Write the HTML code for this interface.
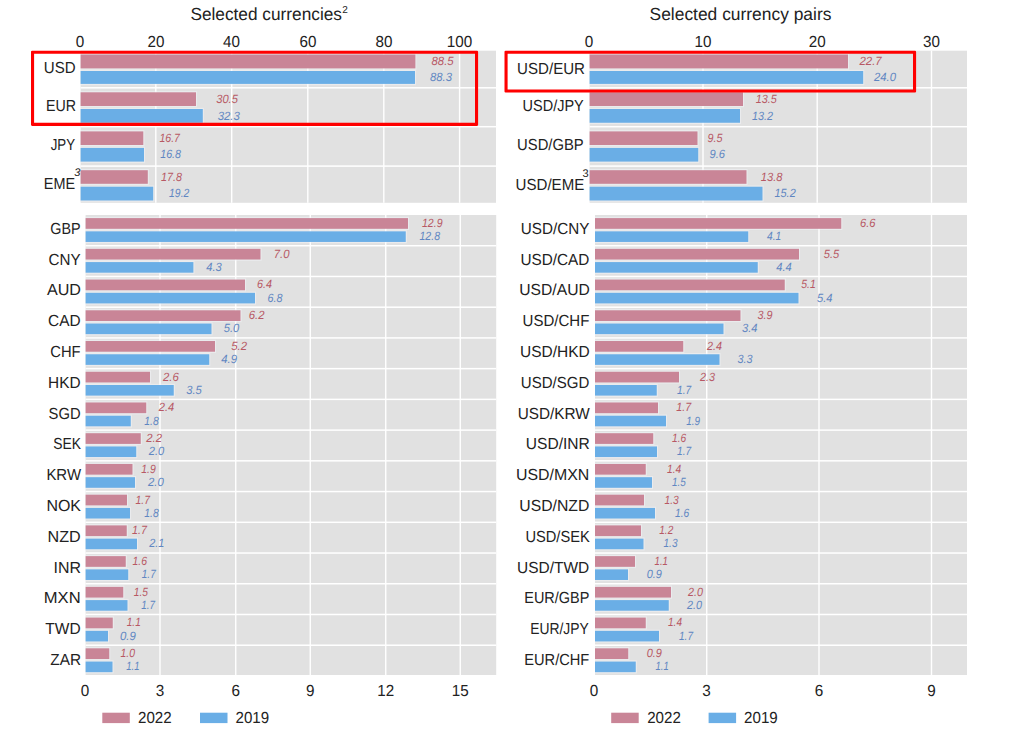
<!DOCTYPE html>
<html><head><meta charset="utf-8"><title>FX turnover</title>
<style>
html,body{margin:0;padding:0;background:#fff;}
body{width:1016px;height:736px;overflow:hidden;font-family:"Liberation Sans",sans-serif;}
svg{display:block;}
svg text{font-family:"Liberation Sans",sans-serif;text-rendering:geometricPrecision;}
</style></head><body>
<svg width="1016" height="736" viewBox="0 0 1016 736">
<rect x="0" y="0" width="1016" height="736" fill="#ffffff"/>
<rect x="80.60" y="50.70" width="415.40" height="152.10" fill="#e1e1e1" />
<rect x="155.10" y="50.70" width="1.40" height="152.10" fill="#fff" />
<rect x="231.00" y="50.70" width="1.40" height="152.10" fill="#fff" />
<rect x="307.10" y="50.70" width="1.40" height="152.10" fill="#fff" />
<rect x="383.10" y="50.70" width="1.40" height="152.10" fill="#fff" />
<rect x="458.90" y="50.70" width="1.40" height="152.10" fill="#fff" />
<rect x="80.60" y="87.05" width="415.40" height="1.50" fill="#fff" />
<rect x="80.60" y="125.95" width="415.40" height="1.50" fill="#fff" />
<rect x="80.60" y="165.35" width="415.40" height="1.50" fill="#fff" />
<rect x="80.60" y="53.25" width="335.90" height="16.40" fill="#f4f6fa" fill-opacity="0.5"/>
<rect x="80.60" y="54.50" width="334.80" height="13.90" fill="#c98597" />
<rect x="80.60" y="69.75" width="335.50" height="15.40" fill="#f4f6fa" fill-opacity="0.5"/>
<rect x="80.60" y="71.00" width="334.40" height="12.90" fill="#6aaee6" />
<text x="431.50" y="65.15" font-size="12" fill="#b75864" text-anchor="start" font-style="italic" textLength="22.2" lengthAdjust="spacingAndGlyphs">88.5</text>
<text x="430.00" y="81.15" font-size="12" fill="#6086c1" text-anchor="start" font-style="italic" textLength="22.0" lengthAdjust="spacingAndGlyphs">88.3</text>
<text x="43.80" y="72.80" font-size="16" fill="#222222" text-anchor="start" textLength="31.8" lengthAdjust="spacingAndGlyphs">USD</text>
<rect x="80.60" y="91.05" width="116.50" height="16.20" fill="#f4f6fa" fill-opacity="0.5"/>
<rect x="80.60" y="92.30" width="115.40" height="13.70" fill="#c98597" />
<rect x="80.60" y="107.75" width="123.30" height="16.25" fill="#f4f6fa" fill-opacity="0.5"/>
<rect x="80.60" y="109.00" width="122.20" height="13.75" fill="#6aaee6" />
<text x="216.20" y="102.85" font-size="12" fill="#b75864" text-anchor="start" font-style="italic" textLength="21.7" lengthAdjust="spacingAndGlyphs">30.5</text>
<text x="217.70" y="119.58" font-size="12" fill="#6086c1" text-anchor="start" font-style="italic" textLength="22.1" lengthAdjust="spacingAndGlyphs">32.3</text>
<text x="46.00" y="111.30" font-size="16" fill="#222222" text-anchor="start" textLength="30.0" lengthAdjust="spacingAndGlyphs">EUR</text>
<rect x="80.60" y="130.15" width="63.80" height="16.10" fill="#f4f6fa" fill-opacity="0.5"/>
<rect x="80.60" y="131.40" width="62.70" height="13.60" fill="#c98597" />
<rect x="80.60" y="146.65" width="64.50" height="16.20" fill="#f4f6fa" fill-opacity="0.5"/>
<rect x="80.60" y="147.90" width="63.40" height="13.70" fill="#6aaee6" />
<text x="159.40" y="141.90" font-size="12" fill="#b75864" text-anchor="start" font-style="italic" textLength="20.6" lengthAdjust="spacingAndGlyphs">16.7</text>
<text x="160.20" y="158.45" font-size="12" fill="#6086c1" text-anchor="start" font-style="italic" textLength="20.8" lengthAdjust="spacingAndGlyphs">16.8</text>
<text x="50.70" y="150.40" font-size="16" fill="#222222" text-anchor="start" textLength="24.4" lengthAdjust="spacingAndGlyphs">JPY</text>
<rect x="80.60" y="168.95" width="68.30" height="16.10" fill="#f4f6fa" fill-opacity="0.5"/>
<rect x="80.60" y="170.20" width="67.20" height="13.60" fill="#c98597" />
<rect x="80.60" y="185.45" width="73.70" height="16.30" fill="#f4f6fa" fill-opacity="0.5"/>
<rect x="80.60" y="186.70" width="72.60" height="13.80" fill="#6aaee6" />
<text x="161.00" y="180.70" font-size="12" fill="#b75864" text-anchor="start" font-style="italic" textLength="21.0" lengthAdjust="spacingAndGlyphs">17.8</text>
<text x="169.10" y="197.30" font-size="12" fill="#6086c1" text-anchor="start" font-style="italic" textLength="20.2" lengthAdjust="spacingAndGlyphs">19.2</text>
<text x="43.80" y="189.10" font-size="16" fill="#222222" text-anchor="start" textLength="31.3" lengthAdjust="spacingAndGlyphs">EME</text>
<text x="80.00" y="46.50" font-size="16" fill="#222222" text-anchor="middle" textLength="8.5" lengthAdjust="spacingAndGlyphs">0</text>
<text x="156.00" y="46.50" font-size="16" fill="#222222" text-anchor="middle" textLength="16.9" lengthAdjust="spacingAndGlyphs">20</text>
<text x="231.50" y="46.50" font-size="16" fill="#222222" text-anchor="middle" textLength="16.9" lengthAdjust="spacingAndGlyphs">40</text>
<text x="308.00" y="46.50" font-size="16" fill="#222222" text-anchor="middle" textLength="16.9" lengthAdjust="spacingAndGlyphs">60</text>
<text x="384.00" y="46.50" font-size="16" fill="#222222" text-anchor="middle" textLength="16.9" lengthAdjust="spacingAndGlyphs">80</text>
<text x="459.50" y="46.50" font-size="16" fill="#222222" text-anchor="middle" textLength="25.4" lengthAdjust="spacingAndGlyphs">100</text>
<rect x="589.60" y="50.70" width="377.40" height="152.10" fill="#e1e1e1" />
<rect x="702.30" y="50.70" width="1.40" height="152.10" fill="#fff" />
<rect x="816.50" y="50.70" width="1.40" height="152.10" fill="#fff" />
<rect x="930.80" y="50.70" width="1.40" height="152.10" fill="#fff" />
<rect x="589.60" y="87.05" width="377.40" height="1.50" fill="#fff" />
<rect x="589.60" y="125.95" width="377.40" height="1.50" fill="#fff" />
<rect x="589.60" y="165.35" width="377.40" height="1.50" fill="#fff" />
<rect x="589.60" y="53.25" width="259.50" height="16.40" fill="#f4f6fa" fill-opacity="0.5"/>
<rect x="589.60" y="54.50" width="258.40" height="13.90" fill="#c98597" />
<rect x="589.60" y="69.75" width="274.70" height="15.40" fill="#f4f6fa" fill-opacity="0.5"/>
<rect x="589.60" y="71.00" width="273.60" height="12.90" fill="#6aaee6" />
<text x="859.40" y="65.15" font-size="12" fill="#b75864" text-anchor="start" font-style="italic" textLength="22.3" lengthAdjust="spacingAndGlyphs">22.7</text>
<text x="874.00" y="81.15" font-size="12" fill="#6086c1" text-anchor="start" font-style="italic" textLength="22.0" lengthAdjust="spacingAndGlyphs">24.0</text>
<text x="517.10" y="73.50" font-size="16" fill="#222222" text-anchor="start" textLength="67.9" lengthAdjust="spacingAndGlyphs">USD/EUR</text>
<rect x="589.60" y="91.05" width="154.50" height="16.20" fill="#f4f6fa" fill-opacity="0.5"/>
<rect x="589.60" y="92.30" width="153.40" height="13.70" fill="#c98597" />
<rect x="589.60" y="107.75" width="151.50" height="16.25" fill="#f4f6fa" fill-opacity="0.5"/>
<rect x="589.60" y="109.00" width="150.40" height="13.75" fill="#6aaee6" />
<text x="755.75" y="102.85" font-size="12" fill="#b75864" text-anchor="start" font-style="italic" textLength="21.0" lengthAdjust="spacingAndGlyphs">13.5</text>
<text x="752.00" y="119.58" font-size="12" fill="#6086c1" text-anchor="start" font-style="italic" textLength="21.0" lengthAdjust="spacingAndGlyphs">13.2</text>
<text x="522.60" y="111.30" font-size="16" fill="#222222" text-anchor="start" textLength="61.1" lengthAdjust="spacingAndGlyphs">USD/JPY</text>
<rect x="589.60" y="130.15" width="109.00" height="16.10" fill="#f4f6fa" fill-opacity="0.5"/>
<rect x="589.60" y="131.40" width="107.90" height="13.60" fill="#c98597" />
<rect x="589.60" y="146.65" width="109.75" height="16.20" fill="#f4f6fa" fill-opacity="0.5"/>
<rect x="589.60" y="147.90" width="108.65" height="13.70" fill="#6aaee6" />
<text x="707.50" y="141.90" font-size="12" fill="#b75864" text-anchor="start" font-style="italic" textLength="15.0" lengthAdjust="spacingAndGlyphs">9.5</text>
<text x="709.50" y="158.45" font-size="12" fill="#6086c1" text-anchor="start" font-style="italic" textLength="15.5" lengthAdjust="spacingAndGlyphs">9.6</text>
<text x="517.10" y="150.40" font-size="16" fill="#222222" text-anchor="start" textLength="66.6" lengthAdjust="spacingAndGlyphs">USD/GBP</text>
<rect x="589.60" y="168.95" width="158.00" height="16.10" fill="#f4f6fa" fill-opacity="0.5"/>
<rect x="589.60" y="170.20" width="156.90" height="13.60" fill="#c98597" />
<rect x="589.60" y="185.45" width="174.00" height="16.30" fill="#f4f6fa" fill-opacity="0.5"/>
<rect x="589.60" y="186.70" width="172.90" height="13.80" fill="#6aaee6" />
<text x="760.75" y="180.70" font-size="12" fill="#b75864" text-anchor="start" font-style="italic" textLength="21.8" lengthAdjust="spacingAndGlyphs">13.8</text>
<text x="774.50" y="197.30" font-size="12" fill="#6086c1" text-anchor="start" font-style="italic" textLength="21.2" lengthAdjust="spacingAndGlyphs">15.2</text>
<text x="515.60" y="189.60" font-size="16" fill="#222222" text-anchor="start" textLength="68.7" lengthAdjust="spacingAndGlyphs">USD/EME</text>
<text x="589.00" y="46.50" font-size="16" fill="#222222" text-anchor="middle" textLength="8.5" lengthAdjust="spacingAndGlyphs">0</text>
<text x="703.00" y="46.50" font-size="16" fill="#222222" text-anchor="middle" textLength="16.9" lengthAdjust="spacingAndGlyphs">10</text>
<text x="817.20" y="46.50" font-size="16" fill="#222222" text-anchor="middle" textLength="16.9" lengthAdjust="spacingAndGlyphs">20</text>
<text x="931.50" y="46.50" font-size="16" fill="#222222" text-anchor="middle" textLength="16.9" lengthAdjust="spacingAndGlyphs">30</text>
<text x="74.20" y="176.10" font-size="11" fill="#222222" text-anchor="start" font-style="italic">3</text>
<text x="582.50" y="176.80" font-size="11" fill="#222222" text-anchor="start">3</text>
<rect x="85.60" y="215.00" width="410.60" height="460.00" fill="#e1e1e1" />
<rect x="159.30" y="215.00" width="1.40" height="460.00" fill="#fff" />
<rect x="235.05" y="215.00" width="1.40" height="460.00" fill="#fff" />
<rect x="309.55" y="215.00" width="1.40" height="460.00" fill="#fff" />
<rect x="385.05" y="215.00" width="1.40" height="460.00" fill="#fff" />
<rect x="459.55" y="215.00" width="1.40" height="460.00" fill="#fff" />
<rect x="85.60" y="244.98" width="410.60" height="1.50" fill="#fff" />
<rect x="85.60" y="275.71" width="410.60" height="1.50" fill="#fff" />
<rect x="85.60" y="306.44" width="410.60" height="1.50" fill="#fff" />
<rect x="85.60" y="337.17" width="410.60" height="1.50" fill="#fff" />
<rect x="85.60" y="367.90" width="410.60" height="1.50" fill="#fff" />
<rect x="85.60" y="398.63" width="410.60" height="1.50" fill="#fff" />
<rect x="85.60" y="429.36" width="410.60" height="1.50" fill="#fff" />
<rect x="85.60" y="460.09" width="410.60" height="1.50" fill="#fff" />
<rect x="85.60" y="490.82" width="410.60" height="1.50" fill="#fff" />
<rect x="85.60" y="521.55" width="410.60" height="1.50" fill="#fff" />
<rect x="85.60" y="552.28" width="410.60" height="1.50" fill="#fff" />
<rect x="85.60" y="583.01" width="410.60" height="1.50" fill="#fff" />
<rect x="85.60" y="613.74" width="410.60" height="1.50" fill="#fff" />
<rect x="85.60" y="644.47" width="410.60" height="1.50" fill="#fff" />
<rect x="85.60" y="216.85" width="323.50" height="13.20" fill="#f4f6fa" fill-opacity="0.5"/>
<rect x="85.60" y="218.10" width="322.40" height="10.70" fill="#c98597" />
<rect x="85.60" y="230.10" width="321.25" height="13.10" fill="#f4f6fa" fill-opacity="0.5"/>
<rect x="85.60" y="231.35" width="320.15" height="10.60" fill="#6aaee6" />
<text x="422.00" y="226.95" font-size="12" fill="#b75864" text-anchor="start" font-style="italic" textLength="20.5" lengthAdjust="spacingAndGlyphs">12.9</text>
<text x="419.50" y="240.15" font-size="12" fill="#6086c1" text-anchor="start" font-style="italic" textLength="20.5" lengthAdjust="spacingAndGlyphs">12.8</text>
<text x="50.30" y="233.70" font-size="16" fill="#222222" text-anchor="start" textLength="30.3" lengthAdjust="spacingAndGlyphs">GBP</text>
<rect x="85.60" y="247.58" width="176.00" height="13.20" fill="#f4f6fa" fill-opacity="0.5"/>
<rect x="85.60" y="248.83" width="174.90" height="10.70" fill="#c98597" />
<rect x="85.60" y="260.83" width="108.90" height="13.10" fill="#f4f6fa" fill-opacity="0.5"/>
<rect x="85.60" y="262.08" width="107.80" height="10.60" fill="#6aaee6" />
<text x="273.75" y="257.68" font-size="12" fill="#b75864" text-anchor="start" font-style="italic" textLength="15.8" lengthAdjust="spacingAndGlyphs">7.0</text>
<text x="206.25" y="270.88" font-size="12" fill="#6086c1" text-anchor="start" font-style="italic" textLength="15.5" lengthAdjust="spacingAndGlyphs">4.3</text>
<text x="48.60" y="264.50" font-size="16" fill="#222222" text-anchor="start" textLength="32.0" lengthAdjust="spacingAndGlyphs">CNY</text>
<rect x="85.60" y="278.31" width="160.50" height="13.20" fill="#f4f6fa" fill-opacity="0.5"/>
<rect x="85.60" y="279.56" width="159.40" height="10.70" fill="#c98597" />
<rect x="85.60" y="291.56" width="170.50" height="13.10" fill="#f4f6fa" fill-opacity="0.5"/>
<rect x="85.60" y="292.81" width="169.40" height="10.60" fill="#6aaee6" />
<text x="257.00" y="288.41" font-size="12" fill="#b75864" text-anchor="start" font-style="italic" textLength="15.0" lengthAdjust="spacingAndGlyphs">6.4</text>
<text x="267.50" y="301.61" font-size="12" fill="#6086c1" text-anchor="start" font-style="italic" textLength="15.0" lengthAdjust="spacingAndGlyphs">6.8</text>
<text x="47.00" y="295.30" font-size="16" fill="#222222" text-anchor="start" textLength="34.0" lengthAdjust="spacingAndGlyphs">AUD</text>
<rect x="85.60" y="309.04" width="156.00" height="13.20" fill="#f4f6fa" fill-opacity="0.5"/>
<rect x="85.60" y="310.29" width="154.90" height="10.70" fill="#c98597" />
<rect x="85.60" y="322.29" width="127.00" height="13.10" fill="#f4f6fa" fill-opacity="0.5"/>
<rect x="85.60" y="323.54" width="125.90" height="10.60" fill="#6aaee6" />
<text x="248.75" y="319.14" font-size="12" fill="#b75864" text-anchor="start" font-style="italic" textLength="15.8" lengthAdjust="spacingAndGlyphs">6.2</text>
<text x="223.75" y="332.34" font-size="12" fill="#6086c1" text-anchor="start" font-style="italic" textLength="15.5" lengthAdjust="spacingAndGlyphs">5.0</text>
<text x="48.10" y="326.10" font-size="16" fill="#222222" text-anchor="start" textLength="32.5" lengthAdjust="spacingAndGlyphs">CAD</text>
<rect x="85.60" y="339.77" width="130.50" height="13.20" fill="#f4f6fa" fill-opacity="0.5"/>
<rect x="85.60" y="341.02" width="129.40" height="10.70" fill="#c98597" />
<rect x="85.60" y="353.02" width="124.75" height="13.10" fill="#f4f6fa" fill-opacity="0.5"/>
<rect x="85.60" y="354.27" width="123.65" height="10.60" fill="#6aaee6" />
<text x="231.25" y="349.87" font-size="12" fill="#b75864" text-anchor="start" font-style="italic" textLength="15.8" lengthAdjust="spacingAndGlyphs">5.2</text>
<text x="221.25" y="363.07" font-size="12" fill="#6086c1" text-anchor="start" font-style="italic" textLength="15.8" lengthAdjust="spacingAndGlyphs">4.9</text>
<text x="50.30" y="356.90" font-size="16" fill="#222222" text-anchor="start" textLength="30.3" lengthAdjust="spacingAndGlyphs">CHF</text>
<rect x="85.60" y="370.50" width="65.50" height="13.20" fill="#f4f6fa" fill-opacity="0.5"/>
<rect x="85.60" y="371.75" width="64.40" height="10.70" fill="#c98597" />
<rect x="85.60" y="383.75" width="89.25" height="13.10" fill="#f4f6fa" fill-opacity="0.5"/>
<rect x="85.60" y="385.00" width="88.15" height="10.60" fill="#6aaee6" />
<text x="163.00" y="380.60" font-size="12" fill="#b75864" text-anchor="start" font-style="italic" textLength="15.8" lengthAdjust="spacingAndGlyphs">2.6</text>
<text x="186.25" y="393.80" font-size="12" fill="#6086c1" text-anchor="start" font-style="italic" textLength="15.5" lengthAdjust="spacingAndGlyphs">3.5</text>
<text x="48.10" y="387.70" font-size="16" fill="#222222" text-anchor="start" textLength="32.5" lengthAdjust="spacingAndGlyphs">HKD</text>
<rect x="85.60" y="401.23" width="61.75" height="13.20" fill="#f4f6fa" fill-opacity="0.5"/>
<rect x="85.60" y="402.48" width="60.65" height="10.70" fill="#c98597" />
<rect x="85.60" y="414.48" width="46.25" height="13.10" fill="#f4f6fa" fill-opacity="0.5"/>
<rect x="85.60" y="415.73" width="45.15" height="10.60" fill="#6aaee6" />
<text x="158.75" y="411.33" font-size="12" fill="#b75864" text-anchor="start" font-style="italic" textLength="15.5" lengthAdjust="spacingAndGlyphs">2.4</text>
<text x="144.25" y="424.53" font-size="12" fill="#6086c1" text-anchor="start" font-style="italic" textLength="14.5" lengthAdjust="spacingAndGlyphs">1.8</text>
<text x="48.60" y="418.50" font-size="16" fill="#222222" text-anchor="start" textLength="32.0" lengthAdjust="spacingAndGlyphs">SGD</text>
<rect x="85.60" y="431.96" width="56.25" height="13.20" fill="#f4f6fa" fill-opacity="0.5"/>
<rect x="85.60" y="433.21" width="55.15" height="10.70" fill="#c98597" />
<rect x="85.60" y="445.21" width="51.75" height="13.10" fill="#f4f6fa" fill-opacity="0.5"/>
<rect x="85.60" y="446.46" width="50.65" height="10.60" fill="#6aaee6" />
<text x="146.25" y="442.06" font-size="12" fill="#b75864" text-anchor="start" font-style="italic" textLength="15.8" lengthAdjust="spacingAndGlyphs">2.2</text>
<text x="148.75" y="455.26" font-size="12" fill="#6086c1" text-anchor="start" font-style="italic" textLength="15.5" lengthAdjust="spacingAndGlyphs">2.0</text>
<text x="53.30" y="449.30" font-size="16" fill="#222222" text-anchor="start" textLength="27.7" lengthAdjust="spacingAndGlyphs">SEK</text>
<rect x="85.60" y="462.69" width="48.00" height="13.20" fill="#f4f6fa" fill-opacity="0.5"/>
<rect x="85.60" y="463.94" width="46.90" height="10.70" fill="#c98597" />
<rect x="85.60" y="475.94" width="50.50" height="13.10" fill="#f4f6fa" fill-opacity="0.5"/>
<rect x="85.60" y="477.19" width="49.40" height="10.60" fill="#6aaee6" />
<text x="141.25" y="472.79" font-size="12" fill="#b75864" text-anchor="start" font-style="italic" textLength="14.5" lengthAdjust="spacingAndGlyphs">1.9</text>
<text x="148.00" y="485.99" font-size="12" fill="#6086c1" text-anchor="start" font-style="italic" textLength="15.8" lengthAdjust="spacingAndGlyphs">2.0</text>
<text x="46.40" y="480.10" font-size="16" fill="#222222" text-anchor="start" textLength="34.6" lengthAdjust="spacingAndGlyphs">KRW</text>
<rect x="85.60" y="493.42" width="42.50" height="13.20" fill="#f4f6fa" fill-opacity="0.5"/>
<rect x="85.60" y="494.67" width="41.40" height="10.70" fill="#c98597" />
<rect x="85.60" y="506.67" width="45.50" height="13.10" fill="#f4f6fa" fill-opacity="0.5"/>
<rect x="85.60" y="507.92" width="44.40" height="10.60" fill="#6aaee6" />
<text x="135.50" y="503.52" font-size="12" fill="#b75864" text-anchor="start" font-style="italic" textLength="14.5" lengthAdjust="spacingAndGlyphs">1.7</text>
<text x="144.25" y="516.72" font-size="12" fill="#6086c1" text-anchor="start" font-style="italic" textLength="14.5" lengthAdjust="spacingAndGlyphs">1.8</text>
<text x="46.40" y="510.90" font-size="16" fill="#222222" text-anchor="start" textLength="34.6" lengthAdjust="spacingAndGlyphs">NOK</text>
<rect x="85.60" y="524.15" width="42.25" height="13.20" fill="#f4f6fa" fill-opacity="0.5"/>
<rect x="85.60" y="525.40" width="41.15" height="10.70" fill="#c98597" />
<rect x="85.60" y="537.40" width="52.50" height="13.10" fill="#f4f6fa" fill-opacity="0.5"/>
<rect x="85.60" y="538.65" width="51.40" height="10.60" fill="#6aaee6" />
<text x="132.00" y="534.25" font-size="12" fill="#b75864" text-anchor="start" font-style="italic" textLength="15.0" lengthAdjust="spacingAndGlyphs">1.7</text>
<text x="149.25" y="547.45" font-size="12" fill="#6086c1" text-anchor="start" font-style="italic" textLength="15.2" lengthAdjust="spacingAndGlyphs">2.1</text>
<text x="47.50" y="541.70" font-size="16" fill="#222222" text-anchor="start" textLength="33.1" lengthAdjust="spacingAndGlyphs">NZD</text>
<rect x="85.60" y="554.88" width="41.25" height="13.20" fill="#f4f6fa" fill-opacity="0.5"/>
<rect x="85.60" y="556.13" width="40.15" height="10.70" fill="#c98597" />
<rect x="85.60" y="568.13" width="43.75" height="13.10" fill="#f4f6fa" fill-opacity="0.5"/>
<rect x="85.60" y="569.38" width="42.65" height="10.60" fill="#6aaee6" />
<text x="132.50" y="564.98" font-size="12" fill="#b75864" text-anchor="start" font-style="italic" textLength="14.5" lengthAdjust="spacingAndGlyphs">1.6</text>
<text x="141.75" y="578.18" font-size="12" fill="#6086c1" text-anchor="start" font-style="italic" textLength="14.0" lengthAdjust="spacingAndGlyphs">1.7</text>
<text x="53.60" y="572.50" font-size="16" fill="#222222" text-anchor="start" textLength="27.4" lengthAdjust="spacingAndGlyphs">INR</text>
<rect x="85.60" y="585.61" width="38.75" height="13.20" fill="#f4f6fa" fill-opacity="0.5"/>
<rect x="85.60" y="586.86" width="37.65" height="10.70" fill="#c98597" />
<rect x="85.60" y="598.86" width="43.00" height="13.10" fill="#f4f6fa" fill-opacity="0.5"/>
<rect x="85.60" y="600.11" width="41.90" height="10.60" fill="#6aaee6" />
<text x="133.75" y="595.71" font-size="12" fill="#b75864" text-anchor="start" font-style="italic" textLength="14.2" lengthAdjust="spacingAndGlyphs">1.5</text>
<text x="141.25" y="608.91" font-size="12" fill="#6086c1" text-anchor="start" font-style="italic" textLength="13.8" lengthAdjust="spacingAndGlyphs">1.7</text>
<text x="43.80" y="603.30" font-size="16" fill="#222222" text-anchor="start" textLength="36.8" lengthAdjust="spacingAndGlyphs">MXN</text>
<rect x="85.60" y="616.34" width="28.25" height="13.20" fill="#f4f6fa" fill-opacity="0.5"/>
<rect x="85.60" y="617.59" width="27.15" height="10.70" fill="#c98597" />
<rect x="85.60" y="629.59" width="23.50" height="13.10" fill="#f4f6fa" fill-opacity="0.5"/>
<rect x="85.60" y="630.84" width="22.40" height="10.60" fill="#6aaee6" />
<text x="126.75" y="626.44" font-size="12" fill="#b75864" text-anchor="start" font-style="italic" textLength="14.0" lengthAdjust="spacingAndGlyphs">1.1</text>
<text x="120.00" y="639.64" font-size="12" fill="#6086c1" text-anchor="start" font-style="italic" textLength="15.8" lengthAdjust="spacingAndGlyphs">0.9</text>
<text x="45.30" y="634.10" font-size="16" fill="#222222" text-anchor="start" textLength="35.3" lengthAdjust="spacingAndGlyphs">TWD</text>
<rect x="85.60" y="647.07" width="24.75" height="13.20" fill="#f4f6fa" fill-opacity="0.5"/>
<rect x="85.60" y="648.32" width="23.65" height="10.70" fill="#c98597" />
<rect x="85.60" y="660.32" width="28.00" height="13.10" fill="#f4f6fa" fill-opacity="0.5"/>
<rect x="85.60" y="661.57" width="26.90" height="10.60" fill="#6aaee6" />
<text x="120.50" y="657.17" font-size="12" fill="#b75864" text-anchor="start" font-style="italic" textLength="14.5" lengthAdjust="spacingAndGlyphs">1.0</text>
<text x="126.25" y="670.37" font-size="12" fill="#6086c1" text-anchor="start" font-style="italic" textLength="13.2" lengthAdjust="spacingAndGlyphs">1.1</text>
<text x="50.30" y="664.90" font-size="16" fill="#222222" text-anchor="start" textLength="30.7" lengthAdjust="spacingAndGlyphs">ZAR</text>
<text x="85.00" y="695.60" font-size="16" fill="#222222" text-anchor="middle" textLength="8.5" lengthAdjust="spacingAndGlyphs">0</text>
<text x="160.00" y="695.60" font-size="16" fill="#222222" text-anchor="middle" textLength="8.5" lengthAdjust="spacingAndGlyphs">3</text>
<text x="235.75" y="695.60" font-size="16" fill="#222222" text-anchor="middle" textLength="8.5" lengthAdjust="spacingAndGlyphs">6</text>
<text x="310.25" y="695.60" font-size="16" fill="#222222" text-anchor="middle" textLength="8.5" lengthAdjust="spacingAndGlyphs">9</text>
<text x="385.75" y="695.60" font-size="16" fill="#222222" text-anchor="middle" textLength="16.9" lengthAdjust="spacingAndGlyphs">12</text>
<text x="460.25" y="695.60" font-size="16" fill="#222222" text-anchor="middle" textLength="16.9" lengthAdjust="spacingAndGlyphs">15</text>
<rect x="595.00" y="215.00" width="372.00" height="460.00" fill="#e1e1e1" />
<rect x="706.05" y="215.00" width="1.40" height="460.00" fill="#fff" />
<rect x="818.30" y="215.00" width="1.40" height="460.00" fill="#fff" />
<rect x="930.80" y="215.00" width="1.40" height="460.00" fill="#fff" />
<rect x="595.00" y="244.98" width="372.00" height="1.50" fill="#fff" />
<rect x="595.00" y="275.71" width="372.00" height="1.50" fill="#fff" />
<rect x="595.00" y="306.44" width="372.00" height="1.50" fill="#fff" />
<rect x="595.00" y="337.17" width="372.00" height="1.50" fill="#fff" />
<rect x="595.00" y="367.90" width="372.00" height="1.50" fill="#fff" />
<rect x="595.00" y="398.63" width="372.00" height="1.50" fill="#fff" />
<rect x="595.00" y="429.36" width="372.00" height="1.50" fill="#fff" />
<rect x="595.00" y="460.09" width="372.00" height="1.50" fill="#fff" />
<rect x="595.00" y="490.82" width="372.00" height="1.50" fill="#fff" />
<rect x="595.00" y="521.55" width="372.00" height="1.50" fill="#fff" />
<rect x="595.00" y="552.28" width="372.00" height="1.50" fill="#fff" />
<rect x="595.00" y="583.01" width="372.00" height="1.50" fill="#fff" />
<rect x="595.00" y="613.74" width="372.00" height="1.50" fill="#fff" />
<rect x="595.00" y="644.47" width="372.00" height="1.50" fill="#fff" />
<rect x="595.00" y="216.85" width="247.35" height="13.20" fill="#f4f6fa" fill-opacity="0.5"/>
<rect x="595.00" y="218.10" width="246.25" height="10.70" fill="#c98597" />
<rect x="595.00" y="230.10" width="154.35" height="13.10" fill="#f4f6fa" fill-opacity="0.5"/>
<rect x="595.00" y="231.35" width="153.25" height="10.60" fill="#6aaee6" />
<text x="860.00" y="226.95" font-size="12" fill="#b75864" text-anchor="start" font-style="italic" textLength="15.5" lengthAdjust="spacingAndGlyphs">6.6</text>
<text x="767.00" y="240.15" font-size="12" fill="#6086c1" text-anchor="start" font-style="italic" textLength="14.2" lengthAdjust="spacingAndGlyphs">4.1</text>
<text x="520.80" y="233.70" font-size="16" fill="#222222" text-anchor="start" textLength="68.5" lengthAdjust="spacingAndGlyphs">USD/CNY</text>
<rect x="595.00" y="247.58" width="205.10" height="13.20" fill="#f4f6fa" fill-opacity="0.5"/>
<rect x="595.00" y="248.83" width="204.00" height="10.70" fill="#c98597" />
<rect x="595.00" y="260.83" width="163.85" height="13.10" fill="#f4f6fa" fill-opacity="0.5"/>
<rect x="595.00" y="262.08" width="162.75" height="10.60" fill="#6aaee6" />
<text x="823.75" y="257.68" font-size="12" fill="#b75864" text-anchor="start" font-style="italic" textLength="15.5" lengthAdjust="spacingAndGlyphs">5.5</text>
<text x="776.25" y="270.88" font-size="12" fill="#6086c1" text-anchor="start" font-style="italic" textLength="15.5" lengthAdjust="spacingAndGlyphs">4.4</text>
<text x="520.40" y="264.50" font-size="16" fill="#222222" text-anchor="start" textLength="68.9" lengthAdjust="spacingAndGlyphs">USD/CAD</text>
<rect x="595.00" y="278.31" width="190.85" height="13.20" fill="#f4f6fa" fill-opacity="0.5"/>
<rect x="595.00" y="279.56" width="189.75" height="10.70" fill="#c98597" />
<rect x="595.00" y="291.56" width="204.60" height="13.10" fill="#f4f6fa" fill-opacity="0.5"/>
<rect x="595.00" y="292.81" width="203.50" height="10.60" fill="#6aaee6" />
<text x="801.25" y="288.41" font-size="12" fill="#b75864" text-anchor="start" font-style="italic" textLength="14.5" lengthAdjust="spacingAndGlyphs">5.1</text>
<text x="817.00" y="301.61" font-size="12" fill="#6086c1" text-anchor="start" font-style="italic" textLength="15.5" lengthAdjust="spacingAndGlyphs">5.4</text>
<text x="519.30" y="295.30" font-size="16" fill="#222222" text-anchor="start" textLength="70.5" lengthAdjust="spacingAndGlyphs">USD/AUD</text>
<rect x="595.00" y="309.04" width="146.60" height="13.20" fill="#f4f6fa" fill-opacity="0.5"/>
<rect x="595.00" y="310.29" width="145.50" height="10.70" fill="#c98597" />
<rect x="595.00" y="322.29" width="129.60" height="13.10" fill="#f4f6fa" fill-opacity="0.5"/>
<rect x="595.00" y="323.54" width="128.50" height="10.60" fill="#6aaee6" />
<text x="757.50" y="319.14" font-size="12" fill="#b75864" text-anchor="start" font-style="italic" textLength="15.0" lengthAdjust="spacingAndGlyphs">3.9</text>
<text x="742.00" y="332.34" font-size="12" fill="#6086c1" text-anchor="start" font-style="italic" textLength="15.5" lengthAdjust="spacingAndGlyphs">3.4</text>
<text x="522.60" y="326.10" font-size="16" fill="#222222" text-anchor="start" textLength="66.7" lengthAdjust="spacingAndGlyphs">USD/CHF</text>
<rect x="595.00" y="339.77" width="89.35" height="13.20" fill="#f4f6fa" fill-opacity="0.5"/>
<rect x="595.00" y="341.02" width="88.25" height="10.70" fill="#c98597" />
<rect x="595.00" y="353.02" width="125.60" height="13.10" fill="#f4f6fa" fill-opacity="0.5"/>
<rect x="595.00" y="354.27" width="124.50" height="10.60" fill="#6aaee6" />
<text x="707.00" y="349.87" font-size="12" fill="#b75864" text-anchor="start" font-style="italic" textLength="15.0" lengthAdjust="spacingAndGlyphs">2.4</text>
<text x="737.50" y="363.07" font-size="12" fill="#6086c1" text-anchor="start" font-style="italic" textLength="15.0" lengthAdjust="spacingAndGlyphs">3.3</text>
<text x="520.00" y="356.90" font-size="16" fill="#222222" text-anchor="start" textLength="69.8" lengthAdjust="spacingAndGlyphs">USD/HKD</text>
<rect x="595.00" y="370.50" width="85.10" height="13.20" fill="#f4f6fa" fill-opacity="0.5"/>
<rect x="595.00" y="371.75" width="84.00" height="10.70" fill="#c98597" />
<rect x="595.00" y="383.75" width="62.85" height="13.10" fill="#f4f6fa" fill-opacity="0.5"/>
<rect x="595.00" y="385.00" width="61.75" height="10.60" fill="#6aaee6" />
<text x="700.00" y="380.60" font-size="12" fill="#b75864" text-anchor="start" font-style="italic" textLength="15.0" lengthAdjust="spacingAndGlyphs">2.3</text>
<text x="677.00" y="393.80" font-size="12" fill="#6086c1" text-anchor="start" font-style="italic" textLength="14.2" lengthAdjust="spacingAndGlyphs">1.7</text>
<text x="520.80" y="387.70" font-size="16" fill="#222222" text-anchor="start" textLength="68.5" lengthAdjust="spacingAndGlyphs">USD/SGD</text>
<rect x="595.00" y="401.23" width="64.10" height="13.20" fill="#f4f6fa" fill-opacity="0.5"/>
<rect x="595.00" y="402.48" width="63.00" height="10.70" fill="#c98597" />
<rect x="595.00" y="414.48" width="72.10" height="13.10" fill="#f4f6fa" fill-opacity="0.5"/>
<rect x="595.00" y="415.73" width="71.00" height="10.60" fill="#6aaee6" />
<text x="676.25" y="411.33" font-size="12" fill="#b75864" text-anchor="start" font-style="italic" textLength="15.0" lengthAdjust="spacingAndGlyphs">1.7</text>
<text x="686.25" y="424.53" font-size="12" fill="#6086c1" text-anchor="start" font-style="italic" textLength="13.8" lengthAdjust="spacingAndGlyphs">1.9</text>
<text x="517.80" y="418.50" font-size="16" fill="#222222" text-anchor="start" textLength="72.0" lengthAdjust="spacingAndGlyphs">USD/KRW</text>
<rect x="595.00" y="431.96" width="59.35" height="13.20" fill="#f4f6fa" fill-opacity="0.5"/>
<rect x="595.00" y="433.21" width="58.25" height="10.70" fill="#c98597" />
<rect x="595.00" y="445.21" width="63.10" height="13.10" fill="#f4f6fa" fill-opacity="0.5"/>
<rect x="595.00" y="446.46" width="62.00" height="10.60" fill="#6aaee6" />
<text x="672.00" y="442.06" font-size="12" fill="#b75864" text-anchor="start" font-style="italic" textLength="14.2" lengthAdjust="spacingAndGlyphs">1.6</text>
<text x="677.00" y="455.26" font-size="12" fill="#6086c1" text-anchor="start" font-style="italic" textLength="14.2" lengthAdjust="spacingAndGlyphs">1.7</text>
<text x="525.80" y="449.30" font-size="16" fill="#222222" text-anchor="start" textLength="64.0" lengthAdjust="spacingAndGlyphs">USD/INR</text>
<rect x="595.00" y="462.69" width="51.85" height="13.20" fill="#f4f6fa" fill-opacity="0.5"/>
<rect x="595.00" y="463.94" width="50.75" height="10.70" fill="#c98597" />
<rect x="595.00" y="475.94" width="58.10" height="13.10" fill="#f4f6fa" fill-opacity="0.5"/>
<rect x="595.00" y="477.19" width="57.00" height="10.60" fill="#6aaee6" />
<text x="667.00" y="472.79" font-size="12" fill="#b75864" text-anchor="start" font-style="italic" textLength="14.2" lengthAdjust="spacingAndGlyphs">1.4</text>
<text x="672.00" y="485.99" font-size="12" fill="#6086c1" text-anchor="start" font-style="italic" textLength="13.8" lengthAdjust="spacingAndGlyphs">1.5</text>
<text x="516.00" y="480.10" font-size="16" fill="#222222" text-anchor="start" textLength="73.3" lengthAdjust="spacingAndGlyphs">USD/MXN</text>
<rect x="595.00" y="493.42" width="50.10" height="13.20" fill="#f4f6fa" fill-opacity="0.5"/>
<rect x="595.00" y="494.67" width="49.00" height="10.70" fill="#c98597" />
<rect x="595.00" y="506.67" width="61.10" height="13.10" fill="#f4f6fa" fill-opacity="0.5"/>
<rect x="595.00" y="507.92" width="60.00" height="10.60" fill="#6aaee6" />
<text x="664.50" y="503.52" font-size="12" fill="#b75864" text-anchor="start" font-style="italic" textLength="14.2" lengthAdjust="spacingAndGlyphs">1.3</text>
<text x="675.00" y="516.72" font-size="12" fill="#6086c1" text-anchor="start" font-style="italic" textLength="14.2" lengthAdjust="spacingAndGlyphs">1.6</text>
<text x="519.30" y="510.90" font-size="16" fill="#222222" text-anchor="start" textLength="70.0" lengthAdjust="spacingAndGlyphs">USD/NZD</text>
<rect x="595.00" y="524.15" width="47.10" height="13.20" fill="#f4f6fa" fill-opacity="0.5"/>
<rect x="595.00" y="525.40" width="46.00" height="10.70" fill="#c98597" />
<rect x="595.00" y="537.40" width="49.60" height="13.10" fill="#f4f6fa" fill-opacity="0.5"/>
<rect x="595.00" y="538.65" width="48.50" height="10.60" fill="#6aaee6" />
<text x="659.25" y="534.25" font-size="12" fill="#b75864" text-anchor="start" font-style="italic" textLength="14.0" lengthAdjust="spacingAndGlyphs">1.2</text>
<text x="663.50" y="547.45" font-size="12" fill="#6086c1" text-anchor="start" font-style="italic" textLength="14.0" lengthAdjust="spacingAndGlyphs">1.3</text>
<text x="525.40" y="541.70" font-size="16" fill="#222222" text-anchor="start" textLength="64.4" lengthAdjust="spacingAndGlyphs">USD/SEK</text>
<rect x="595.00" y="554.88" width="41.10" height="13.20" fill="#f4f6fa" fill-opacity="0.5"/>
<rect x="595.00" y="556.13" width="40.00" height="10.70" fill="#c98597" />
<rect x="595.00" y="568.13" width="34.10" height="13.10" fill="#f4f6fa" fill-opacity="0.5"/>
<rect x="595.00" y="569.38" width="33.00" height="10.60" fill="#6aaee6" />
<text x="654.50" y="564.98" font-size="12" fill="#b75864" text-anchor="start" font-style="italic" textLength="13.5" lengthAdjust="spacingAndGlyphs">1.1</text>
<text x="646.75" y="578.18" font-size="12" fill="#6086c1" text-anchor="start" font-style="italic" textLength="15.2" lengthAdjust="spacingAndGlyphs">0.9</text>
<text x="517.10" y="572.50" font-size="16" fill="#222222" text-anchor="start" textLength="72.2" lengthAdjust="spacingAndGlyphs">USD/TWD</text>
<rect x="595.00" y="585.61" width="77.10" height="13.20" fill="#f4f6fa" fill-opacity="0.5"/>
<rect x="595.00" y="586.86" width="76.00" height="10.70" fill="#c98597" />
<rect x="595.00" y="598.86" width="74.85" height="13.10" fill="#f4f6fa" fill-opacity="0.5"/>
<rect x="595.00" y="600.11" width="73.75" height="10.60" fill="#6aaee6" />
<text x="688.00" y="595.71" font-size="12" fill="#b75864" text-anchor="start" font-style="italic" textLength="15.0" lengthAdjust="spacingAndGlyphs">2.0</text>
<text x="687.00" y="608.91" font-size="12" fill="#6086c1" text-anchor="start" font-style="italic" textLength="15.0" lengthAdjust="spacingAndGlyphs">2.0</text>
<text x="524.30" y="603.30" font-size="16" fill="#222222" text-anchor="start" textLength="65.0" lengthAdjust="spacingAndGlyphs">EUR/GBP</text>
<rect x="595.00" y="616.34" width="51.85" height="13.20" fill="#f4f6fa" fill-opacity="0.5"/>
<rect x="595.00" y="617.59" width="50.75" height="10.70" fill="#c98597" />
<rect x="595.00" y="629.59" width="65.10" height="13.10" fill="#f4f6fa" fill-opacity="0.5"/>
<rect x="595.00" y="630.84" width="64.00" height="10.60" fill="#6aaee6" />
<text x="668.00" y="626.44" font-size="12" fill="#b75864" text-anchor="start" font-style="italic" textLength="14.0" lengthAdjust="spacingAndGlyphs">1.4</text>
<text x="679.00" y="639.64" font-size="12" fill="#6086c1" text-anchor="start" font-style="italic" textLength="14.0" lengthAdjust="spacingAndGlyphs">1.7</text>
<text x="530.20" y="634.10" font-size="16" fill="#222222" text-anchor="start" textLength="58.5" lengthAdjust="spacingAndGlyphs">EUR/JPY</text>
<rect x="595.00" y="647.07" width="34.35" height="13.20" fill="#f4f6fa" fill-opacity="0.5"/>
<rect x="595.00" y="648.32" width="33.25" height="10.70" fill="#c98597" />
<rect x="595.00" y="660.32" width="41.85" height="13.10" fill="#f4f6fa" fill-opacity="0.5"/>
<rect x="595.00" y="661.57" width="40.75" height="10.60" fill="#6aaee6" />
<text x="646.75" y="657.17" font-size="12" fill="#b75864" text-anchor="start" font-style="italic" textLength="15.2" lengthAdjust="spacingAndGlyphs">0.9</text>
<text x="655.50" y="670.37" font-size="12" fill="#6086c1" text-anchor="start" font-style="italic" textLength="13.2" lengthAdjust="spacingAndGlyphs">1.1</text>
<text x="524.30" y="664.90" font-size="16" fill="#222222" text-anchor="start" textLength="65.0" lengthAdjust="spacingAndGlyphs">EUR/CHF</text>
<text x="594.00" y="695.60" font-size="16" fill="#222222" text-anchor="middle" textLength="8.5" lengthAdjust="spacingAndGlyphs">0</text>
<text x="706.50" y="695.60" font-size="16" fill="#222222" text-anchor="middle" textLength="8.5" lengthAdjust="spacingAndGlyphs">3</text>
<text x="819.00" y="695.60" font-size="16" fill="#222222" text-anchor="middle" textLength="8.5" lengthAdjust="spacingAndGlyphs">6</text>
<text x="931.50" y="695.60" font-size="16" fill="#222222" text-anchor="middle" textLength="8.5" lengthAdjust="spacingAndGlyphs">9</text>
<rect x="102.30" y="712.70" width="27.50" height="10.40" fill="#c98597" />
<text x="138.00" y="723.40" font-size="16" fill="#222222" text-anchor="start" textLength="33.6" lengthAdjust="spacingAndGlyphs">2022</text>
<rect x="200.00" y="712.70" width="27.50" height="10.40" fill="#6aaee6" />
<text x="235.50" y="723.40" font-size="16" fill="#222222" text-anchor="start" textLength="33.6" lengthAdjust="spacingAndGlyphs">2019</text>
<rect x="611.20" y="712.70" width="27.50" height="10.40" fill="#c98597" />
<text x="647.20" y="723.40" font-size="16" fill="#222222" text-anchor="start" textLength="33.6" lengthAdjust="spacingAndGlyphs">2022</text>
<rect x="708.60" y="712.70" width="27.50" height="10.40" fill="#6aaee6" />
<text x="744.10" y="723.40" font-size="16" fill="#222222" text-anchor="start" textLength="33.6" lengthAdjust="spacingAndGlyphs">2019</text>
<text x="190.40" y="20.10" font-size="17.5" fill="#222222" text-anchor="start" textLength="151.6" lengthAdjust="spacingAndGlyphs">Selected currencies</text>
<text x="342.30" y="12.60" font-size="10" fill="#222222" text-anchor="start">2</text>
<text x="649.60" y="19.90" font-size="17.5" fill="#222222" text-anchor="start" textLength="181.8" lengthAdjust="spacingAndGlyphs">Selected currency pairs</text>
<path d="M32.10,50.70H477.00Q478.10,50.70 478.10,51.80V124.80Q478.10,125.90 477.00,125.90H32.10Q31.00,125.90 31.00,124.80V51.80Q31.00,50.70 32.10,50.70ZM34.10,53.80V122.80H475.00V53.80Z" fill="#ff0000" fill-rule="evenodd"/>
<path d="M505.60,50.70H915.00Q916.10,50.70 916.10,51.80V91.50Q916.10,92.60 915.00,92.60H505.60Q504.50,92.60 504.50,91.50V51.80Q504.50,50.70 505.60,50.70ZM507.60,53.80V89.50H913.00V53.80Z" fill="#ff0000" fill-rule="evenodd"/>
</svg>
</body></html>
